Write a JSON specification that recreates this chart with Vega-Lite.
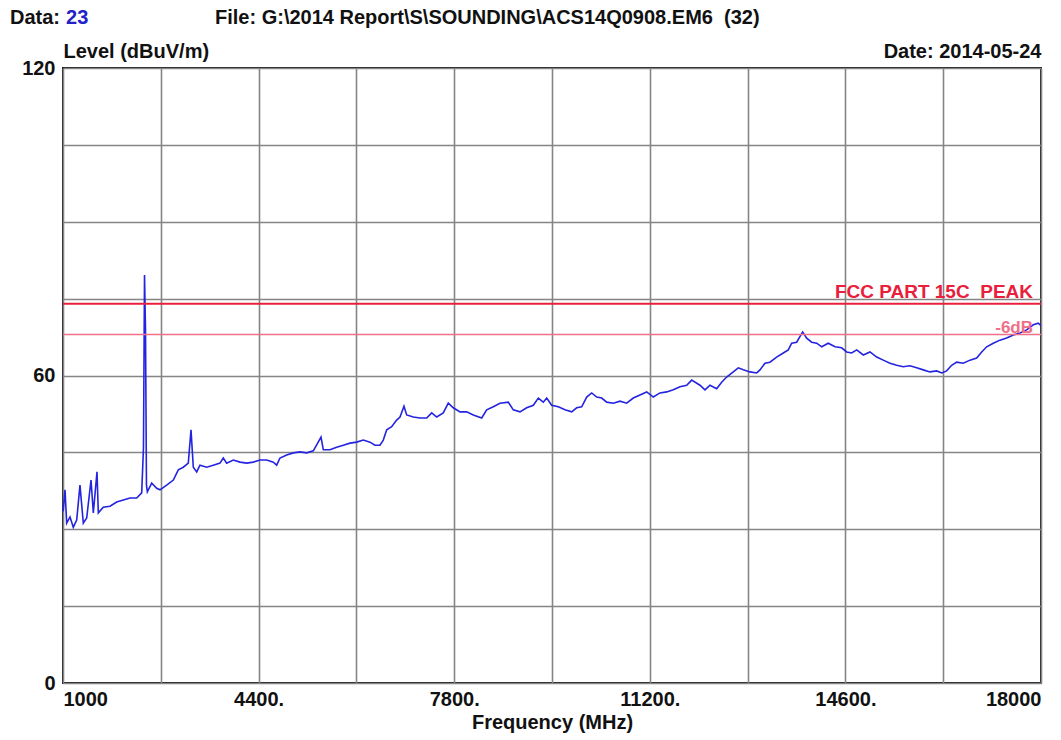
{
  "$schema": "https://vega.github.io/schema/vega-lite/v6.json",
  "autosize": {"type": "none"},
  "width": 978,
  "height": 615,
  "padding": {"left": 63, "top": 68, "right": 20, "bottom": 57},
  "background": "white",
  "config": {
    "font": "Liberation Sans",
    "view": {"stroke": "#1a1a1a", "strokeWidth": 2},
    "axis": {"labelFont": "Liberation Sans", "titleFont": "Liberation Sans"}
  },
  "datasets": {
    "trace": [
      {"freq": 1000, "level": 33.5},
      {"freq": 1005, "level": 33.8},
      {"freq": 1035, "level": 37.7},
      {"freq": 1064, "level": 31.2},
      {"freq": 1122, "level": 32.4},
      {"freq": 1179, "level": 30.4},
      {"freq": 1238, "level": 31.8},
      {"freq": 1295, "level": 38.6},
      {"freq": 1353, "level": 31.2},
      {"freq": 1412, "level": 32.2},
      {"freq": 1487, "level": 39.6},
      {"freq": 1527, "level": 33.2},
      {"freq": 1591, "level": 41.2},
      {"freq": 1614, "level": 33.2},
      {"freq": 1700, "level": 34.3},
      {"freq": 1817, "level": 34.5},
      {"freq": 1933, "level": 35.3},
      {"freq": 2048, "level": 35.7},
      {"freq": 2165, "level": 36.1},
      {"freq": 2281, "level": 36.1},
      {"freq": 2368, "level": 37.1},
      {"freq": 2399, "level": 46.0},
      {"freq": 2417, "level": 79.6},
      {"freq": 2434, "level": 68.9},
      {"freq": 2451, "level": 38.6},
      {"freq": 2466, "level": 37.3},
      {"freq": 2542, "level": 39.0},
      {"freq": 2629, "level": 38.0},
      {"freq": 2686, "level": 37.7},
      {"freq": 2802, "level": 38.6},
      {"freq": 2918, "level": 39.6},
      {"freq": 3004, "level": 41.6},
      {"freq": 3091, "level": 42.1},
      {"freq": 3178, "level": 42.9},
      {"freq": 3225, "level": 49.4},
      {"freq": 3265, "level": 42.1},
      {"freq": 3324, "level": 41.2},
      {"freq": 3381, "level": 42.5},
      {"freq": 3498, "level": 42.1},
      {"freq": 3612, "level": 42.5},
      {"freq": 3729, "level": 42.9},
      {"freq": 3786, "level": 43.9},
      {"freq": 3845, "level": 42.9},
      {"freq": 3960, "level": 43.5},
      {"freq": 4077, "level": 43.1},
      {"freq": 4193, "level": 42.9},
      {"freq": 4308, "level": 43.1},
      {"freq": 4424, "level": 43.5},
      {"freq": 4541, "level": 43.5},
      {"freq": 4655, "level": 43.1},
      {"freq": 4714, "level": 42.5},
      {"freq": 4772, "level": 43.9},
      {"freq": 4888, "level": 44.5},
      {"freq": 5003, "level": 44.9},
      {"freq": 5120, "level": 45.1},
      {"freq": 5236, "level": 44.9},
      {"freq": 5351, "level": 45.3},
      {"freq": 5485, "level": 48.0},
      {"freq": 5525, "level": 45.5},
      {"freq": 5641, "level": 45.5},
      {"freq": 5757, "level": 46.0},
      {"freq": 5872, "level": 46.4},
      {"freq": 5989, "level": 46.8},
      {"freq": 6105, "level": 47.0},
      {"freq": 6220, "level": 47.4},
      {"freq": 6336, "level": 47.0},
      {"freq": 6423, "level": 46.4},
      {"freq": 6510, "level": 46.4},
      {"freq": 6567, "level": 47.4},
      {"freq": 6627, "level": 49.4},
      {"freq": 6713, "level": 50.0},
      {"freq": 6800, "level": 51.3},
      {"freq": 6858, "level": 51.9},
      {"freq": 6927, "level": 54.0},
      {"freq": 6974, "level": 52.3},
      {"freq": 7089, "level": 51.9},
      {"freq": 7205, "level": 51.7},
      {"freq": 7322, "level": 51.7},
      {"freq": 7409, "level": 52.7},
      {"freq": 7496, "level": 51.9},
      {"freq": 7610, "level": 52.7},
      {"freq": 7697, "level": 54.6},
      {"freq": 7784, "level": 53.7},
      {"freq": 7901, "level": 52.9},
      {"freq": 8017, "level": 52.9},
      {"freq": 8132, "level": 52.3},
      {"freq": 8278, "level": 51.7},
      {"freq": 8365, "level": 53.3},
      {"freq": 8480, "level": 53.9},
      {"freq": 8596, "level": 54.6},
      {"freq": 8740, "level": 54.8},
      {"freq": 8827, "level": 53.3},
      {"freq": 8944, "level": 52.9},
      {"freq": 9060, "level": 53.7},
      {"freq": 9175, "level": 54.2},
      {"freq": 9262, "level": 55.6},
      {"freq": 9349, "level": 54.8},
      {"freq": 9408, "level": 55.6},
      {"freq": 9494, "level": 54.2},
      {"freq": 9609, "level": 53.9},
      {"freq": 9726, "level": 53.3},
      {"freq": 9842, "level": 52.9},
      {"freq": 9929, "level": 53.7},
      {"freq": 10016, "level": 53.9},
      {"freq": 10103, "level": 55.8},
      {"freq": 10190, "level": 56.6},
      {"freq": 10277, "level": 55.8},
      {"freq": 10364, "level": 55.6},
      {"freq": 10451, "level": 54.8},
      {"freq": 10565, "level": 54.6},
      {"freq": 10682, "level": 55.0},
      {"freq": 10798, "level": 54.6},
      {"freq": 10913, "level": 55.6},
      {"freq": 11029, "level": 56.2},
      {"freq": 11146, "level": 56.8},
      {"freq": 11261, "level": 55.8},
      {"freq": 11377, "level": 56.6},
      {"freq": 11494, "level": 56.8},
      {"freq": 11608, "level": 57.2},
      {"freq": 11725, "level": 57.8},
      {"freq": 11841, "level": 58.1},
      {"freq": 11928, "level": 59.1},
      {"freq": 12072, "level": 58.1},
      {"freq": 12159, "level": 57.2},
      {"freq": 12246, "level": 58.1},
      {"freq": 12362, "level": 57.4},
      {"freq": 12449, "level": 58.7},
      {"freq": 12536, "level": 59.7},
      {"freq": 12651, "level": 60.7},
      {"freq": 12738, "level": 61.5},
      {"freq": 12825, "level": 61.1},
      {"freq": 12941, "level": 60.7},
      {"freq": 13058, "level": 60.5},
      {"freq": 13115, "level": 61.1},
      {"freq": 13202, "level": 62.4},
      {"freq": 13289, "level": 62.6},
      {"freq": 13405, "level": 63.6},
      {"freq": 13520, "level": 64.4},
      {"freq": 13607, "level": 65.0},
      {"freq": 13666, "level": 66.3},
      {"freq": 13753, "level": 66.5},
      {"freq": 13857, "level": 68.5},
      {"freq": 13927, "level": 67.3},
      {"freq": 14014, "level": 66.5},
      {"freq": 14101, "level": 66.3},
      {"freq": 14188, "level": 65.6},
      {"freq": 14302, "level": 66.3},
      {"freq": 14419, "level": 65.6},
      {"freq": 14535, "level": 65.4},
      {"freq": 14622, "level": 64.6},
      {"freq": 14709, "level": 64.4},
      {"freq": 14796, "level": 65.0},
      {"freq": 14911, "level": 64.0},
      {"freq": 15027, "level": 64.6},
      {"freq": 15144, "level": 63.6},
      {"freq": 15258, "level": 63.0},
      {"freq": 15375, "level": 62.4},
      {"freq": 15491, "level": 62.0},
      {"freq": 15606, "level": 61.7},
      {"freq": 15722, "level": 61.9},
      {"freq": 15839, "level": 61.5},
      {"freq": 15954, "level": 61.1},
      {"freq": 16070, "level": 60.7},
      {"freq": 16186, "level": 60.9},
      {"freq": 16274, "level": 60.5},
      {"freq": 16360, "level": 60.9},
      {"freq": 16447, "level": 62.0},
      {"freq": 16534, "level": 62.6},
      {"freq": 16649, "level": 62.4},
      {"freq": 16766, "level": 63.0},
      {"freq": 16882, "level": 63.4},
      {"freq": 16969, "level": 64.6},
      {"freq": 17056, "level": 65.6},
      {"freq": 17170, "level": 66.3},
      {"freq": 17287, "level": 66.9},
      {"freq": 17403, "level": 67.3},
      {"freq": 17518, "level": 67.9},
      {"freq": 17634, "level": 68.3},
      {"freq": 17751, "level": 68.9},
      {"freq": 17866, "level": 69.9},
      {"freq": 17953, "level": 70.2},
      {"freq": 18000, "level": 69.7}
    ],
    "limits": [
      {"limit": "FCC PART 15C\u00a0\u00a0PEAK", "level": 74},
      {"limit": "-6dB", "level": 68}
    ],
    "header": [
      {"part": "Data:"},
      {"part": "23"},
      {"part": "File: G:\\2014 Report\\S\\SOUNDING\\ACS14Q0908.EM6\u00a0\u00a0(32)"}
    ]
  },
  "layer": [
    {
      "layer": [
        {
          "data": {"name": "trace"},
          "mark": {"type": "line", "color": "#2323e0", "strokeWidth": 1.6, "interpolate": "linear"},
          "encoding": {
            "x": {
              "field": "freq", "type": "quantitative",
              "scale": {"domain": [1000, 18000], "nice": false, "zero": false},
              "axis": {
                "values": [1000, 2700, 4400, 6100, 7800, 9500, 11200, 12900, 14600, 16300, 18000],
                "labelExpr": "datum.value == 1000 ? '1000' : datum.value == 18000 ? '18000' : (datum.value == 4400 || datum.value == 7800 || datum.value == 11200 || datum.value == 14600) ? datum.value + '.' : ''",
                "labelFlush": true,
                "labelOverlap": false,
                "labelFontSize": 20,
                "labelFontWeight": "bold",
                "labelColor": "#111111",
                "labelPadding": 6,
                "ticks": false,
                "domain": false,
                "grid": true,
                "gridColor": "#858585",
                "gridWidth": 1.6,
                "title": "Frequency (MHz)",
                "titleFontSize": 20,
                "titleFontWeight": "bold",
                "titleColor": "#111111",
                "titlePadding": 3
              }
            },
            "y": {
              "field": "level", "type": "quantitative",
              "scale": {"domain": [0, 120], "nice": false, "zero": true},
              "axis": {
                "values": [0, 15, 30, 45, 60, 75, 90, 105, 120],
                "labelExpr": "(datum.value == 0 || datum.value == 60 || datum.value == 120) ? datum.label : ''",
                "labelOverlap": false,
                "labelFontSize": 20,
                "labelFontWeight": "bold",
                "labelColor": "#111111",
                "labelPadding": 8,
                "ticks": false,
                "domain": false,
                "grid": true,
                "gridColor": "#858585",
                "gridWidth": 1.6,
                "title": "Level (dBuV/m)",
                "titleAngle": 0,
                "titleAlign": "left",
                "titleBaseline": "alphabetic",
                "titleX": 0,
                "titleY": -11,
                "titleFontSize": 20,
                "titleFontWeight": "bold",
                "titleColor": "#111111"
              }
            }
          }
        },
        {
          "data": {"name": "limits"},
          "transform": [{"filter": "datum.level == 74"}],
          "mark": {"type": "rule", "color": "#e8203c", "strokeWidth": 2},
          "encoding": {"y": {"field": "level", "type": "quantitative"}}
        },
        {
          "data": {"name": "limits"},
          "transform": [{"filter": "datum.level == 68"}],
          "mark": {"type": "rule", "color": "#f07088", "strokeWidth": 1.6},
          "encoding": {"y": {"field": "level", "type": "quantitative"}}
        },
        {
          "data": {"name": "limits"},
          "transform": [{"filter": "datum.level == 74"}],
          "mark": {"type": "text", "color": "#e8203c", "fontSize": 19, "fontWeight": "bold", "align": "right", "baseline": "alphabetic", "dx": -8, "dy": -6},
          "encoding": {
            "x": {"datum": 18000, "type": "quantitative"},
            "y": {"field": "level", "type": "quantitative"},
            "text": {"field": "limit"}
          }
        },
        {
          "data": {"name": "limits"},
          "transform": [{"filter": "datum.level == 68"}],
          "mark": {"type": "text", "color": "#f07088", "fontSize": 17, "fontWeight": "bold", "align": "right", "baseline": "alphabetic", "dx": -8, "dy": -2},
          "encoding": {
            "x": {"datum": 18000, "type": "quantitative"},
            "y": {"field": "level", "type": "quantitative"},
            "text": {"field": "limit"}
          }
        },
        {
          "data": {"name": "header"},
          "transform": [{"filter": "datum.part == 'Data:'"}],
          "mark": {"type": "text", "color": "#111111", "fontSize": 20, "fontWeight": "bold", "align": "left", "baseline": "alphabetic"},
          "encoding": {
            "x": {"datum": 79, "type": "quantitative"},
            "y": {"datum": 128.6, "type": "quantitative"},
            "text": {"field": "part"}
          }
        },
        {
          "data": {"name": "header"},
          "transform": [{"filter": "datum.part == '23'"}],
          "mark": {"type": "text", "color": "#2222c8", "fontSize": 20, "fontWeight": "bold", "align": "left", "baseline": "alphabetic", "dx": 56},
          "encoding": {
            "x": {"datum": 79, "type": "quantitative"},
            "y": {"datum": 128.6, "type": "quantitative"},
            "text": {"field": "part"}
          }
        },
        {
          "data": {"name": "header"},
          "transform": [{"filter": "indexof(datum.part, 'File') == 0"}],
          "mark": {"type": "text", "color": "#111111", "fontSize": 20, "fontWeight": "bold", "align": "left", "baseline": "alphabetic"},
          "encoding": {
            "x": {"datum": 3642, "type": "quantitative"},
            "y": {"datum": 128.6, "type": "quantitative"},
            "text": {"field": "part"}
          }
        }
      ]
    },
    {
      "data": {"values": [{"date": "2014-05-24"}]},
      "mark": {"type": "rule", "opacity": 0},
      "encoding": {
        "y": {
          "datum": 0, "type": "quantitative",
          "scale": {"domain": [0, 120], "nice": false},
          "axis": {
            "orient": "right",
            "labels": false, "ticks": false, "domain": false, "grid": false,
            "title": "Date: 2014-05-24",
            "titleAngle": 0,
            "titleAlign": "right",
            "titleBaseline": "alphabetic",
            "titleX": 0,
            "titleY": -11,
            "titleFontSize": 20,
            "titleFontWeight": "bold",
            "titleColor": "#111111"
          }
        }
      }
    }
  ],
  "resolve": {"scale": {"y": "independent"}, "axis": {"y": "independent"}}
}
